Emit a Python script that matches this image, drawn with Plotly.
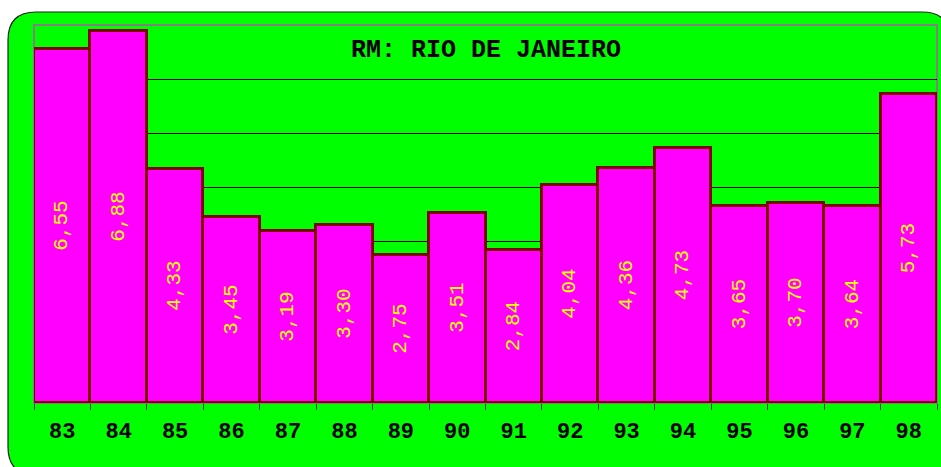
import plotly.graph_objects as go

years = ["83", "84", "85", "86", "87", "88", "89", "90", "91", "92", "93", "94", "95", "96", "97", "98"]
values = [6.55, 6.88, 4.33, 3.45, 3.19, 3.30, 2.75, 3.51, 2.84, 4.04, 4.36, 4.73, 3.65, 3.70, 3.64, 5.73]
labels = ["6,55", "6,88", "4,33", "3,45", "3,19", "3,30", "2,75", "3,51", "2,84", "4,04", "4,36", "4,73", "3,65", "3,70", "3,64", "5,73"]
title_text = "RM: RIO DE JANEIRO"

W, H = 941, 467
L, R, T, B = 34, 4, 25, 64
PW, PH = W - L - R, H - T - B

def px(x):
    return (x - L) / PW

def py(y):
    return (H - B - y) / PH

# outer rounded rectangle (pixel geometry converted to paper coords)
x0, y0, x1, y1, r = 8, 12, 950, 475, 28
path = (
    f"M {px(x0 + r)} {py(y0)} L {px(x1 - r)} {py(y0)} "
    f"Q {px(x1)} {py(y0)} {px(x1)} {py(y0 + r)} "
    f"L {px(x1)} {py(y1 - r)} Q {px(x1)} {py(y1)} {px(x1 - r)} {py(y1)} "
    f"L {px(x0 + r)} {py(y1)} Q {px(x0)} {py(y1)} {px(x0)} {py(y1 - r)} "
    f"L {px(x0)} {py(y0 + r)} Q {px(x0)} {py(y0)} {px(x0 + r)} {py(y0)} Z"
)

fig = go.Figure(
    go.Bar(
        x=years,
        y=values,
        text=labels,
        textposition="inside",
        insidetextanchor="middle",
        textangle=-90,
        textfont=dict(family="Liberation Mono", size=21, color="#FFFF00"),
        marker=dict(color="#FF00FF", line=dict(color="#800000", width=3)),
        cliponaxis=False,
    )
)

fig.update_layout(
    width=W,
    height=H,
    margin=dict(l=L, r=R, t=T, b=B),
    paper_bgcolor="white",
    plot_bgcolor="rgba(0,0,0,0)",
    bargap=0,
    showlegend=False,
    shapes=[
        dict(type="path", xref="paper", yref="paper", path=path, layer="below",
             fillcolor="#00FF00", line=dict(color="#222222", width=1.2)),
        dict(type="rect", xref="paper", yref="paper", x0=0, y0=0, x1=1, y1=1, layer="below",
             fillcolor="rgba(0,0,0,0)", line=dict(color="#808080", width=2)),
    ],
    annotations=[
        dict(text=title_text, xref="paper", yref="paper", x=0.5, y=py(50), showarrow=False,
             xanchor="center", yanchor="middle",
             font=dict(family="Liberation Mono", size=25, color="black", weight="bold")),
    ],
)

fig.update_xaxes(
    type="category",
    ticks="outside",
    tickson="boundaries",
    ticklen=6,
    tickcolor="#333333",
    tickwidth=1,
    ticklabelstandoff=12,
    showgrid=False,
    showline=False,
    tickfont=dict(family="Liberation Mono", size=22, color="black", weight="bold"),
)
fig.update_yaxes(
    range=[0, 7],
    tickvals=[1, 2, 3, 4, 5, 6],
    showticklabels=False,
    showgrid=True,
    gridcolor="black",
    gridwidth=1,
    zeroline=False,
    showline=False,
)

fig.write_html(
    "out.html",
    config={"displayModeBar": False},
    post_script="document.body.style.margin='0px';document.body.style.overflow='hidden';",
)
